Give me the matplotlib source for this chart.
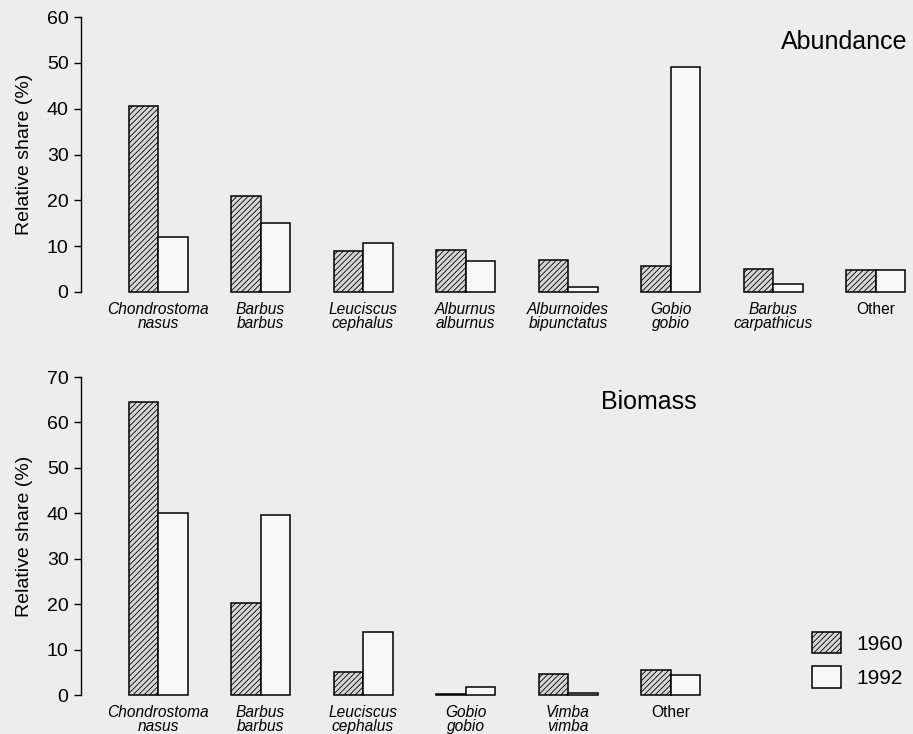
import numpy as np
import matplotlib
matplotlib.use("Agg")
from matplotlib import pyplot as plt

# data
abund_species = ["Chondrostoma\nnasus", "Barbus\nbarbus", "Leuciscus\ncephalus",
                 "Alburnus\nalburnus", "Alburnoides\nbipunctatus", "Gobio\ngobio",
                 "Barbus\ncarpathicus", "Other"]
abund_1960 = [40.5, 21.0, 9.0, 9.1, 6.9, 5.7, 5.0, 4.9]
abund_1992 = [12.1, 15.1, 10.7, 6.7, 1.2, 49.0, 1.8, 4.9]

biom_species = ["Chondrostoma\nnasus", "Barbus\nbarbus", "Leuciscus\ncephalus",
                "Gobio\ngobio", "Vimba\nvimba", "Other"]
biom_1960 = [64.5, 20.3, 5.1, 0.3, 4.7, 5.5]
biom_1992 = [40.1, 39.6, 13.9, 1.8, 0.5, 4.5]

years = ["1960", "1992"]

plt.rcParams['font.family'] = ['Liberation Sans', 'DejaVu Sans']
plt.rcParams['hatch.linewidth'] = 0.6
plt.rcParams['hatch.color'] = '#222222'

bg = '#ededed'
W, H = 913, 734
fig = plt.figure(figsize=(W / 100, H / 100), dpi=100, facecolor=bg)

# pixel layout: left spine at x=81, group spacing 102.5 px, first group at 158
left_px, right_px = 81, 910
xmin = -(158 - left_px) / 102.5
xmax = (right_px - 158) / 102.5
w = 29.5 / 102.5

ax1 = fig.add_axes([left_px / W, (H - 292) / H, (right_px - left_px) / W, 275 / H])
ax2 = fig.add_axes([left_px / W, (H - 695) / H, (right_px - left_px) / W, 318 / H])


def draw(ax, species, v60, v92, ymax):
    x = np.arange(len(species))
    b1 = ax.bar(x, v60, width=-w, align='edge', facecolor='#d6d6d6', edgecolor='black',
                hatch='//////', linewidth=1.1, clip_on=False, label=years[0])
    b2 = ax.bar(x, v92, width=w, align='edge', facecolor='#f8f8f8', edgecolor='black',
                linewidth=1.1, clip_on=False, label=years[1])
    ax.set_facecolor('none')
    ax.set_xlim(xmin, xmax)
    ax.set_ylim(0, ymax)
    ax.set_yticks(range(0, ymax + 1, 10))
    for s in ['top', 'right', 'bottom']:
        ax.spines[s].set_visible(False)
    ax.spines['left'].set_linewidth(1.0)
    ax.tick_params(axis='y', direction='out', length=5, width=1.0, labelsize=14, pad=4)
    ax.tick_params(axis='x', length=0, pad=7)
    ax.set_xticks(x)
    ax.set_xticklabels(species, fontsize=11.2, linespacing=0.98)
    for lab in ax.get_xticklabels():
        if lab.get_text() != "Other":
            lab.set_style('italic')
    ax.set_ylabel('Relative share (%)', fontsize=14, labelpad=10)
    return b1, b2


draw(ax1, abund_species, abund_1960, abund_1992, 60)
b1, b2 = draw(ax2, biom_species, biom_1960, biom_1992, 70)

fig.text(907 / W, 1 - 42 / H, 'Abundance', fontsize=18, ha='right', va='center')
fig.text(649 / W, 1 - 402 / H, 'Biomass', fontsize=18, ha='center', va='center')

fig.legend(handles=[b1, b2], labels=years, loc='upper left',
           bbox_to_anchor=(812 / W, 1 - 632 / H), bbox_transform=fig.transFigure,
           frameon=False, fontsize=15, handlelength=1.4, handleheight=1.2,
           handletextpad=0.75, labelspacing=0.6, borderpad=0, borderaxespad=0)

plt.savefig('out.png', dpi=100, facecolor=bg)
